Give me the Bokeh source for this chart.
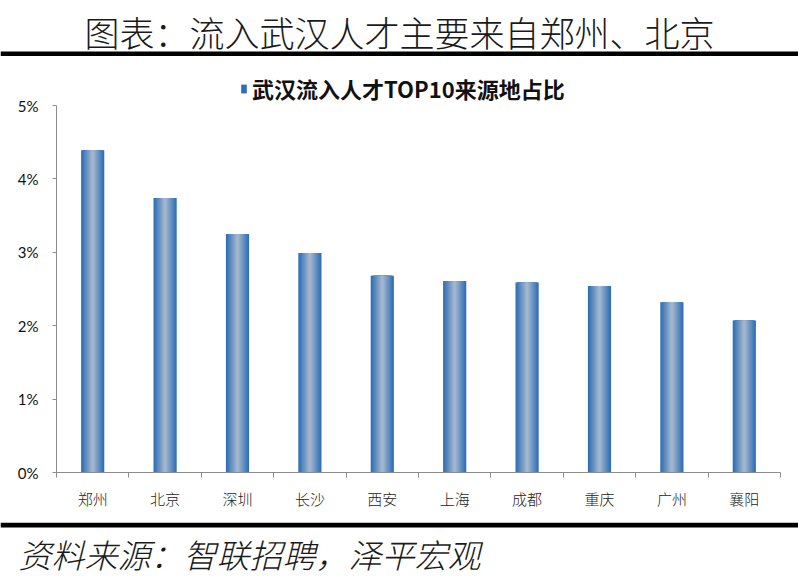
from bokeh.plotting import figure
from bokeh.models import (Range1d, FixedTicker, PrintfTickFormatter, Legend, LegendItem,
                          ColumnDataSource)
from bokeh.layouts import column, row
from bokeh.embed import file_html
from bokeh.resources import INLINE
from bokeh.core.properties import value

# ---- data ----
categories = ["郑州", "北京", "深圳", "长沙", "西安", "上海", "成都", "重庆", "广州", "襄阳"]
shares = [4.39, 3.74, 3.25, 2.99, 2.68, 2.61, 2.59, 2.54, 2.32, 2.07]
y_ticks = [0, 1, 2, 3, 4, 5]
title_text = "图表：流入武汉人才主要来自郑州、北京"
legend_text = "武汉流入人才TOP10来源地占比"
source_text = "资料来源：智联招聘，泽平宏观"

W = 798
LEFT, RIGHT = 56, 18
CJK = "'Noto Sans CJK SC'"
CJK_LIGHT = "'Noto Sans CJK SC Light', 'Noto Sans CJK SC'"
GREY = "#8c8c8c"
RULE = 5


def banner(height):
    f = figure(width=W, height=height, x_range=Range1d(0, W), y_range=Range1d(0, height),
               output_backend="svg", toolbar_location=None, min_border=0,
               min_border_left=0, min_border_right=0, min_border_top=0, min_border_bottom=0,
               x_axis_location=None, y_axis_location=None)
    f.grid.visible = False
    f.outline_line_color = None
    return f


# ---- top banner: title + thick rule ----
TOP_H = 56
top = banner(TOP_H)
top.text(x=[W / 2], y=[TOP_H - 31], text=[title_text], text_align="center",
         text_baseline="middle", text_font=value(CJK_LIGHT), text_font_size="35px",
         text_color="#1a1a1a")
top.quad(left=[0], right=[W], bottom=[0], top=[RULE], fill_color="black", line_color=None)

# ---- chart ----
MID_H = 466
frame_h = 416
px_per_pct = 73.4
p = figure(width=W, height=MID_H, x_range=Range1d(0, len(categories)),
           y_range=Range1d(0, frame_h / px_per_pct),
           output_backend="svg", toolbar_location=None,
           min_border_left=LEFT, min_border_right=RIGHT, min_border_top=0,
           min_border_bottom=MID_H - frame_h)
p.grid.visible = False
p.outline_line_color = None

xs = [i + 0.5 for i in range(len(categories))]
src = ColumnDataSource(dict(x=xs, top=shares, name=categories))

edge = (46, 110, 182)
center = (164, 183, 206)
N = 12
BW = 0.32
renderers = []
for k in range(N):
    m = k / (N - 1)
    c = tuple(int(round(edge[j] + (center[j] - edge[j]) * m)) for j in range(3))
    col = "#%02x%02x%02x" % c
    r = p.vbar(x="x", top="top", bottom=0, width=BW * (1 - k / N), source=src,
               fill_color=col, line_color=None)
    renderers.append(r)

legend = Legend(items=[LegendItem(label=legend_text, renderers=[renderers[0]])],
                location=(184, 368), orientation="horizontal")
legend.padding = 0
legend.margin = 0
legend.border_line_color = None
legend.background_fill_alpha = 0
legend.glyph_width = 7
legend.glyph_height = 11
legend.label_standoff = 5
legend.label_text_font = CJK
legend.label_text_font_style = "bold"
legend.label_text_font_size = "22px"
legend.label_text_color = "#111111"
p.add_layout(legend, "center")

# y axis
p.yaxis.ticker = FixedTicker(ticks=y_ticks)
p.yaxis.formatter = PrintfTickFormatter(format="%d%%")
p.yaxis.bounds = (y_ticks[0], y_ticks[-1])
p.yaxis.axis_line_color = GREY
p.yaxis.major_tick_line_color = GREY
p.yaxis.major_tick_out = 4
p.yaxis.major_tick_in = 0
p.yaxis.minor_tick_line_color = None
p.yaxis.major_label_text_font = "Lato"
p.yaxis.major_label_text_font_size = "15px"
p.yaxis.major_label_text_color = "#111111"
p.yaxis.major_label_standoff = 14

# x axis: labels at category centres, ticks at boundaries
p.xaxis.ticker = FixedTicker(ticks=xs, minor_ticks=list(range(len(categories) + 1)))
p.xaxis.major_label_overrides = {x: c for x, c in zip(xs, categories)}
p.xaxis.axis_line_color = GREY
p.xaxis.major_tick_line_color = None
p.xaxis.major_tick_out = 0
p.xaxis.major_tick_in = 0
p.xaxis.minor_tick_line_color = GREY
p.xaxis.minor_tick_out = 5
p.xaxis.minor_tick_in = 0
p.xaxis.major_label_text_font = CJK_LIGHT
p.xaxis.major_label_text_font_size = "15px"
p.xaxis.major_label_text_color = "#222222"
p.xaxis.major_label_standoff = 10

# ---- bottom banner: thick rule + source ----
BOT_H = 57
bot = banner(BOT_H)
bot.quad(left=[0], right=[W], bottom=[BOT_H - RULE], top=[BOT_H], fill_color="black",
         line_color=None)
bot.text(x=[18], y=[BOT_H - 31], text=[source_text], text_align="left",
         text_baseline="middle", text_font=value(CJK_LIGHT), text_font_size="33px",
         text_font_style="italic", text_color="#1a1a1a")

layout = column(row(top), p, row(bot), spacing=0)
open("out.html", "w").write(file_html(layout, INLINE))
